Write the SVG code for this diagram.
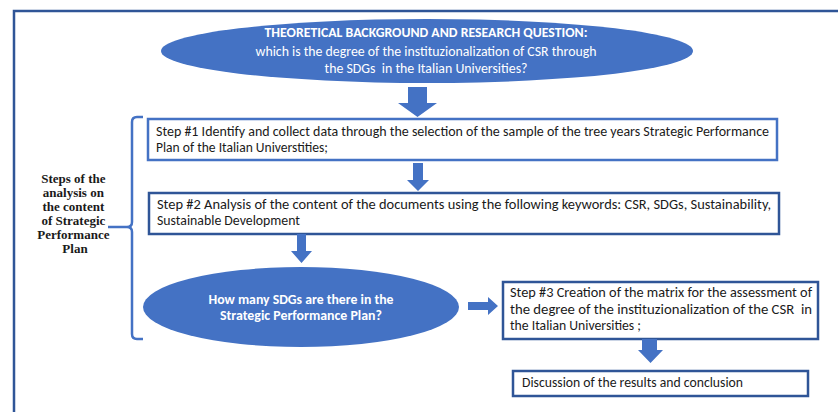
<svg xmlns="http://www.w3.org/2000/svg" width="838" height="412" viewBox="0 0 838 412">
<style>
.t{font-family:Carlito,Lato,"Liberation Sans",sans-serif;font-size:13.5px;fill:#1a1a1a;white-space:pre}
.w{font-family:Carlito,Lato,"Liberation Sans",sans-serif;font-size:13.5px;fill:#ffffff;white-space:pre}
.b{font-weight:bold}
.s{font-family:"Liberation Serif","DejaVu Serif",serif;font-size:13px;font-weight:bold;fill:#1a1a1a}
.ell{fill:#4472C4}
.arr{fill:#4472C4}
.box1{fill:#fff;stroke:#4472C4;stroke-width:2.5}
.box{fill:#fff;stroke:#2F5597;stroke-width:2.5}
</style>
<rect width="838" height="412" fill="#fff"/>
<path d="M14,412 V11 H838" fill="none" stroke="#2F5597" stroke-width="2.5"/>

<g id="question">
<ellipse class="ell" cx="427" cy="51" rx="266" ry="32"/>
<text class="w b" x="426" y="37" text-anchor="middle" textLength="323" lengthAdjust="spacingAndGlyphs">THEORETICAL BACKGROUND AND RESEARCH QUESTION:</text>
<text class="w" x="426" y="56" text-anchor="middle" textLength="341" lengthAdjust="spacingAndGlyphs">which is the degree of the instituzionalization of CSR through</text>
<text class="w" x="426" y="73" text-anchor="middle" textLength="203" lengthAdjust="spacingAndGlyphs">the SDGs  in the Italian Universities?</text>
</g>

<g id="bracket-label">
<path d="M143,117 H137 Q132,117 132,122 V222 Q132,227 127,227 H108 M127,227 Q132,227 132,232 V334 Q132,339 137,339 H143" fill="none" stroke="#4472C4" stroke-width="2.5"/>
<text class="s" text-anchor="middle">
<tspan x="75" y="183">Steps of the</tspan>
<tspan x="75" y="197">analysis on</tspan>
<tspan x="75" y="211">the content</tspan>
<tspan x="75" y="225">of Strategic</tspan>
<tspan x="75" y="239">Performance</tspan>
<tspan x="75" y="253">Plan</tspan>
</text>
</g>

<g id="step1">
<rect class="box1" x="148" y="119" width="629" height="41"/>
<text class="t" x="156" y="136" textLength="613" lengthAdjust="spacingAndGlyphs">Step #1 Identify and collect data through the selection of the sample of the tree years Strategic Performance</text>
<text class="t" x="156" y="152" textLength="172" lengthAdjust="spacingAndGlyphs">Plan of the Italian Universtities;</text>
</g>

<g id="step2">
<rect class="box" x="149" y="193" width="630" height="41"/>
<text class="t" x="157" y="209" textLength="614" lengthAdjust="spacingAndGlyphs">Step #2 Analysis of the content of the documents using the following keywords: CSR, SDGs, Sustainability,</text>
<text class="t" x="157" y="225" textLength="143" lengthAdjust="spacingAndGlyphs">Sustainable Development</text>
</g>

<g id="sdg-question">
<ellipse class="ell" cx="301" cy="307" rx="158" ry="40"/>
<text class="w b" x="301" y="304" text-anchor="middle" textLength="185" lengthAdjust="spacingAndGlyphs">How many SDGs are there in the</text>
<text class="w b" x="301" y="320" text-anchor="middle" textLength="162" lengthAdjust="spacingAndGlyphs">Strategic Performance Plan?</text>
</g>

<g id="step3">
<rect class="box" x="503" y="282" width="315" height="57"/>
<text class="t" x="510" y="297" textLength="302" lengthAdjust="spacingAndGlyphs">Step #3 Creation of the matrix for the assessment of</text>
<text class="t" x="510" y="314" textLength="302" lengthAdjust="spacingAndGlyphs">the degree of the instituzionalization of the CSR  in</text>
<text class="t" x="510" y="330" textLength="131" lengthAdjust="spacingAndGlyphs">the Italian Universities ;</text>
</g>

<g id="discussion">
<rect class="box" x="513" y="371" width="295" height="25"/>
<text class="t" x="522" y="387" textLength="221" lengthAdjust="spacingAndGlyphs">Discussion of the results and conclusion</text>
</g>

<g id="connectors">
<polygon class="arr" points="408,87 427,87 427,103 437,103 417.5,117 398,103 408,103"/>
<polygon class="arr" points="413,163 423,163 423,180 429,180 418,191 407,180 413,180"/>
<polygon class="arr" points="297,234 306,234 306,251 312,251 301.5,263 291,251 297,251"/>
<polygon class="arr" points="468,302 488,302 488,297 498,306 488,315 488,310 468,310"/>
<polygon class="arr" points="642,339 657,339 657,350 663,350 650.5,363 638,350 642,350"/>
</g>
</svg>
